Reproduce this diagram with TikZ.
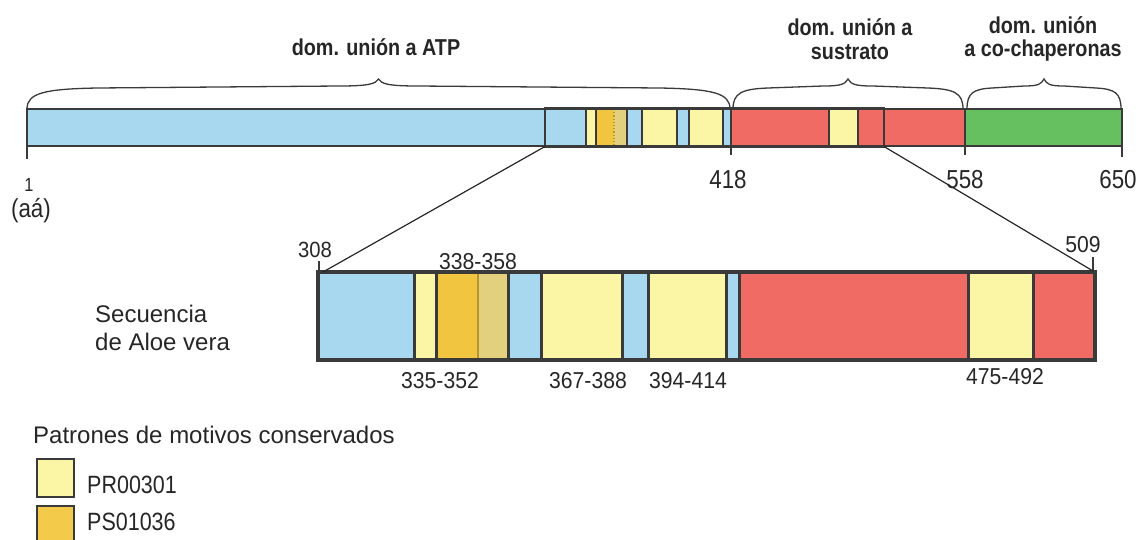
\documentclass[tikz,border=0pt]{standalone}
\usepackage{fontspec}
\setmainfont{Liberation Sans}
\newfontfamily\cond[FakeStretch=0.86]{Liberation Sans}
\newfontfamily\condlow[FakeStretch=0.92]{Liberation Sans}
\usetikzlibrary{calc}
\definecolor{cblue}{HTML}{A8D8EF}
\definecolor{cyel}{HTML}{FBF6A6}
\definecolor{corange}{HTML}{F2C540}
\definecolor{colive}{HTML}{E3D07E}
\definecolor{cred}{HTML}{EF6B63}
\definecolor{cgreen}{HTML}{66C060}
\definecolor{cline}{HTML}{3A3A3A}
\definecolor{ctext}{HTML}{262626}
\definecolor{cbrown}{HTML}{B8962E}
% #1 x0, #2 x1, #3 ybase, #4 end-curve length, #5 inner-curve length
\newcommand\cbrace[5]{%
  \draw[bracestyle] (#1,#3) .. controls (#1,{#3-16}) and ({#1+#4/4},{#3-20}) .. ({#1+#4},{#3-21})
    -- ({(#1+#2)/2-#5},{#3-23}) .. controls ({(#1+#2)/2-#5/4},{#3-23}) and ({(#1+#2)/2-3},{#3-25}) .. ({(#1+#2)/2},{#3-30})
    .. controls ({(#1+#2)/2+3},{#3-25}) and ({(#1+#2)/2+#5/4},{#3-23}) .. ({(#1+#2)/2+#5},{#3-23})
    -- ({#2-#4},{#3-21}) .. controls ({#2-#4/4},{#3-20}) and (#2,{#3-16}) .. (#2,#3);}
\begin{document}
\begin{tikzpicture}[x=1pt,y=-1pt,
  bracestyle/.style={draw=cline,line width=1.3pt},
  thin/.style={draw=cline,line width=1.2pt},
  thick/.style={draw=cline,line width=3pt},
  tick/.style={draw=cline,line width=2pt},
  zoomline/.style={draw=black!85,line width=1.2pt},
  toplab/.style={text=ctext,font=\cond\bfseries\fontsize{23}{24}\selectfont,anchor=base,inner sep=0pt},
  numlab/.style={text=ctext,font=\cond\fontsize{26}{26}\selectfont,anchor=base,inner sep=0pt},
  seqlab/.style={text=ctext,font=\condlow\fontsize{23}{24}\selectfont,anchor=base,inner sep=0pt},
  txt/.style={text=ctext,font=\fontsize{24}{26}\selectfont,anchor=base west,inner sep=0pt},
  leglab/.style={text=ctext,font=\cond\fontsize{25}{26}\selectfont,anchor=base west,inner sep=0pt},
  legbox/.style={draw=cline,line width=1.3pt}]
\useasboundingbox (0,0) rectangle (1138,539);
% ---------- top bar ----------
\fill[cblue] (27,109) rectangle (586,146);
\fill[cyel] (586,109) rectangle (596,146);
\fill[corange] (596,109) rectangle (614,146);
\fill[colive] (614,109) rectangle (627,146);
\fill[cblue] (627,109) rectangle (642,146);
\fill[cyel] (642,109) rectangle (677,146);
\fill[cblue] (677,109) rectangle (689,146);
\fill[cyel] (689,109) rectangle (723,146);
\fill[cblue] (723,109) rectangle (730,146);
\fill[cred] (730,109) rectangle (829,146);
\fill[cyel] (829,109) rectangle (858,146);
\fill[cred] (858,109) rectangle (965,146);
\fill[cgreen] (965,109) rectangle (1122,146);
\foreach \xx in {586,596,627,642,677,689,723,829,858}{\draw[thin] (\xx,109) -- (\xx,146);}
\draw[draw=cbrown,line width=1.2pt,dotted] (614,109) -- (614,146);
\draw[thick,line width=2.4pt] (731,109) -- (731,146);
\draw[thin,line width=1.6pt] (965,109) -- (965,146);
\node[draw=cline,line width=1.5pt,minimum width=1095pt,minimum height=37pt,inner sep=0pt,outer sep=0pt] (full) at (574.5,127.5) {};
\node[draw=cline,line width=2.6pt,minimum width=339pt,minimum height=38pt,inner sep=0pt,outer sep=0pt] (zbox) at (714.5,127.5) {};
% ticks
\draw[tick] (27,146) -- (27,159);
\draw[tick] (731,146) -- (731,155);
\draw[tick] (965,146) -- (965,155);
\draw[tick] (1122,146) -- (1122,157);
% braces
\cbrace{27}{730}{109}{70}{40}
\cbrace{733}{963}{109}{35}{25}
\cbrace{967}{1121}{109}{25}{20}
% top labels
\node[toplab] (latp) at (376,55) {dom. unión a ATP};
\node[toplab] (lsus1) at (850,35) {dom. unión a};
\node[toplab] (lsus2) at (850,59) {sustrato};
\node[toplab] (lco1) at (1043,33) {dom. unión};
\node[toplab] (lco2) at (1043,56) {a co-chaperonas};
% numbers top
\node[text=ctext,font=\cond\fontsize{19}{20}\selectfont,anchor=base,inner sep=0pt] (n1) at (29,191) {1};
\node[numlab] (naa) at (31,217) {(aá)};
\node[numlab] (n418) at (728,188) {418};
\node[numlab] (n558) at (965,188) {558};
\node[numlab] (n650) at (1118,188) {650};
% ---------- lower bar ----------
\fill[cblue] (320,273) rectangle (414,359);
\fill[cyel] (414,273) rectangle (436,359);
\fill[corange] (436,273) rectangle (478,359);
\fill[colive] (478,273) rectangle (508,359);
\fill[cblue] (508,273) rectangle (541,359);
\fill[cyel] (541,273) rectangle (622,359);
\fill[cblue] (622,273) rectangle (648,359);
\fill[cyel] (648,273) rectangle (726,359);
\fill[cblue] (726,273) rectangle (739,359);
\fill[cred] (739,273) rectangle (968,359);
\fill[cyel] (968,273) rectangle (1033,359);
\fill[cred] (1033,273) rectangle (1094,359);
\foreach \xx in {414,436,508,541,622,648,726,739,968,1033}{\draw[thick] (\xx,273) -- (\xx,359);}
\draw[draw=cbrown,line width=2pt] (478,273) -- (478,359);
\node[draw=cline,line width=4.5pt,minimum width=777pt,minimum height=88pt,inner sep=0pt,outer sep=0pt] (seq) at (706.5,316) {};
\draw[tick] (319,261) -- (319,272);
\draw[tick] (1093,257) -- (1093,272);
% zoom connectors
\coordinate (seqL) at (323,272);
\coordinate (seqR) at (1093,271);
\draw[zoomline] (zbox.south west) -- (seqL);
\draw[zoomline] (zbox.south east) -- (seqR);
% lower labels
\node[text=ctext,font=\condlow\fontsize{22}{22}\selectfont,anchor=base,inner sep=0pt] (n308) at (315,257) {308};
\node[text=ctext,font=\condlow\fontsize{23}{22}\selectfont,anchor=base,inner sep=0pt] (n509) at (1083,252) {509};
\node[seqlab] (l338) at (478,269) {338-358};
\node[seqlab] (l335) at (440,388) {335-352};
\node[seqlab] (l367) at (588,388) {367-388};
\node[seqlab] (l394) at (688,388) {394-414};
\node[seqlab] (l475) at (1005,384) {475-492};
\node[txt] (sec1) at (95,322) {Secuencia};
\node[txt] (sec2) at (95,350) {de Aloe vera};
% legend
\node[txt] (legt) at (33,443) {Patrones de motivos conservados};
\draw[legbox,fill=cyel] (37,459) rectangle (74,497);
\draw[legbox,fill=corange!90!cyel] (37,506) rectangle (74,546);
\node[leglab] (lg1) at (87,493) {PR00301};
\node[leglab] (lg2) at (87,530) {PS01036};
\end{tikzpicture}
\end{document}
